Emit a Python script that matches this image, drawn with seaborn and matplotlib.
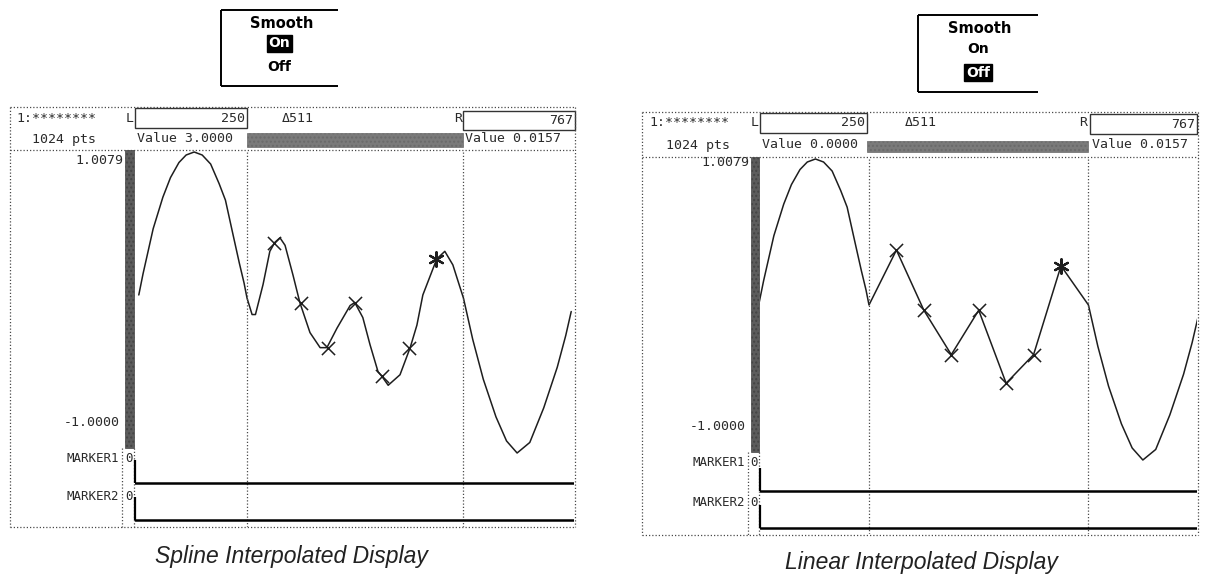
import numpy as np
import pandas as pd
import matplotlib
matplotlib.use("Agg")
import matplotlib.pyplot as plt
import seaborn as sns

# ---------------- data ----------------
cursor_left = 256
cursor_right = 767
cursor_delta = 511
channel_label = "1:********"
record_label = "1024 pts"
scale_top_label = "1.0079"
scale_bottom_label = "-1.0000"
marker_names = ["MARKER1", "MARKER2"]
marker_states = [0, 0]
cursor_box_labels = ["250", "767"]
left_value_labels = ["Value 3.0000", "Value 0.0157"]
right_value_labels = ["Value 0.0000", "Value 0.0157"]
smooth_title = "Smooth"
smooth_options = ["On", "Off"]
captions = ["Spline Interpolated Display", "Linear Interpolated Display"]

# waveform before the left cursor (point index, amplitude)
lead_pts = [0, 10, 34, 57, 75, 95, 112, 131, 150, 170, 190, 205, 223, 238, 249, 256]
lead_vals = [0.05, 0.19, 0.49, 0.70, 0.83, 0.93, 0.98, 1.00, 0.98, 0.92, 0.79, 0.68, 0.45, 0.26, 0.13, 0.03]

# raw samples between the cursors
sample_pts = [256, 320, 384, 448, 512, 576, 640, 704, 768]
sample_vals = [0.03, 0.395, -0.005, -0.30, -0.005, -0.49, -0.30, 0.29, 0.03]

# spline-smoothed trace between the cursors (as drawn in the left display)
spline_pts = [256, 268, 276, 294, 310, 322, 334, 346, 365, 381, 405, 429, 445, 469, 500,
              511, 530, 547, 566, 575, 590, 618, 642, 658, 672, 705, 724, 743, 760, 768]
spline_vals = [0.03, -0.08, -0.08, 0.12, 0.34, 0.40, 0.43, 0.38, 0.18, 0.00, -0.20, -0.30,
               -0.30, -0.17, -0.02, 0.00, -0.10, -0.28, -0.46, -0.49, -0.55, -0.48, -0.30,
               -0.15, 0.05, 0.29, 0.34, 0.25, 0.10, 0.03]

# waveform after the right cursor
tail_pts = [768, 790, 815, 845, 870, 895, 925, 958, 990, 1010, 1023]
tail_vals = [0.03, -0.245, -0.51, -0.76, -0.92, -1.00, -0.93, -0.70, -0.43, -0.22, -0.06]

cross_idx = [1, 2, 3, 4, 5, 6]
star_idx = [7]

# ---------------- layout / style ----------------
W, H = 1205, 577
YLIM = (-1.495, 1.013)
MONO = "DejaVu Sans Mono"
INK = "#1e1e1e"
DOT = dict(color="#4a4a4a", lw=0.9, ls=(0, (1, 1.6)))

sns.set_theme(style="white")
plt.rcParams["font.family"] = ["DejaVu Sans"]

fig = plt.figure(figsize=(W / 100, H / 100), dpi=100)
fig.patch.set_facecolor("white")
bg = fig.add_axes([0, 0, 1, 1], zorder=0)
bg.set_xlim(0, W)
bg.set_ylim(H, 0)
bg.axis("off")


def seg(x0, y0, x1, y1, **kw):
    bg.plot([x0, x1], [y0, y1], solid_capstyle="butt", **kw)


def rect(x0, y0, x1, y1, **kw):
    bg.add_patch(plt.Rectangle((x0, y0), x1 - x0, y1 - y0, **kw))


def txt(x, y, s, ha="left", size=9.5, **kw):
    bg.text(x, y, s, ha=ha, va="center", fontsize=size, family=MONO, color="#2a2a2a", **kw)


def smooth_box(g, highlight):
    x0, y0, x1, y1 = g["sbox"]
    seg(x0, y0, x1, y0, color="black", lw=1.4)
    seg(x0, y1, x1, y1, color="black", lw=1.4)
    seg(x0, y0, x0, y1, color="black", lw=1.4)
    cx = (x0 + x1) / 2
    bg.text(cx + 2, y0 + 0.18 * (y1 - y0), smooth_title, ha="center", va="center",
            fontsize=10.5, fontweight="bold", color="black")
    for i, opt in enumerate(smooth_options):
        yy = y0 + (0.44 + 0.31 * i) * (y1 - y0)
        if i == highlight:
            bg.text(cx, yy, opt, ha="center", va="center", fontsize=10, color="white",
                    fontweight="bold",
                    bbox=dict(facecolor="black", edgecolor="black", boxstyle="square,pad=0.12"))
        else:
            bg.text(cx, yy, opt, ha="center", va="center", fontsize=10, color="black",
                    fontweight="bold")


def panel(g, values, curve_pts, curve_vals, caption, highlight):
    fx0, fy0, fx1, fy1 = g["frame"]
    db = g["dbar"]
    s = (g["cR"] - g["cL"]) / (cursor_right - cursor_left)
    px_l = db[1] + 1
    px_r = fx1 - 1
    xlim = (cursor_left - (g["cL"] - px_l) / s, cursor_left + (px_r - g["cL"]) / s)
    top = g["c"] - YLIM[1] * g["k"]
    bot = g["c"] - YLIM[0] * g["k"]

    # frame (dotted)
    seg(fx0, fy0, fx1, fy0, **DOT)
    seg(fx0, fy1, fx1, fy1, **DOT)
    seg(fx0, fy0, fx0, fy1, **DOT)
    seg(fx1, fy0, fx1, fy1, **DOT)
    seg(fx0, top, fx1, top, **DOT)

    # header row 1
    txt(g["id_x"], g["r1"], channel_label)
    txt(g["Lx"], g["r1"], "L", ha="center")
    lb = g["Lbox"]
    rect(lb[0], lb[1], lb[2], lb[3], fill=False, edgecolor="#333", lw=1.0)
    txt(lb[2] - 2, (lb[1] + lb[3]) / 2, cursor_box_labels[0], ha="right")
    txt(g["dx"], g["r1"], "\u0394" + str(cursor_delta))
    txt(g["Rx"], g["r1"], "R", ha="center")
    rb = g["Rbox"]
    rect(rb[0], rb[1], rb[2], rb[3], fill=False, edgecolor="#333", lw=1.0)
    txt(rb[2] - 2, (rb[1] + rb[3]) / 2, cursor_box_labels[1], ha="right")

    # header row 2
    txt(g["pts_x"], g["r2"], record_label)
    txt(lb[0] + 2, g["r2"], values[0])
    gb = g["gbar"]
    rect(gb[0], gb[1], gb[2], gb[3], facecolor="#7a7a7a", edgecolor="#6a6a6a", lw=0.5,
         hatch="....")
    txt(rb[0] + 2, g["r2"], values[1])

    # scale bar and labels
    rect(db[0], top, db[1], db[2], facecolor="#5c5c5c", edgecolor="#444", lw=0.5, hatch="....")
    txt(db[0] - 2, g["lab_top"], scale_top_label, ha="right")
    txt(db[0] - 5, g["lab_bot"], scale_bottom_label, ha="right")

    # marker channel column
    seg(db[0] - 3, db[2], db[0] - 3, fy1, **DOT)
    seg(db[1], db[2], db[1], fy1, **DOT)
    for i, name in enumerate(marker_names):
        yy = g["mk_y"][i]
        txt(db[0] - 6, yy, name, ha="right", size=9)
        txt((db[0] + db[1]) / 2 - 1, yy, str(marker_states[i]), ha="center", size=9)

    # data axes
    ax = fig.add_axes([px_l / W, 1 - bot / H, (px_r - px_l) / W, (bot - top) / H], zorder=2)
    ax.patch.set_alpha(0)
    ax.set_xlim(xlim)
    ax.set_ylim(YLIM)
    ax.axis("off")

    df = pd.DataFrame({"point": curve_pts, "amp": curve_vals})
    sns.lineplot(data=df, x="point", y="amp", sort=False, estimator=None, ax=ax,
                 color=INK, lw=1.1)
    cross = pd.DataFrame({"point": [sample_pts[i] for i in cross_idx],
                          "amp": [sample_vals[i] for i in cross_idx]})
    sns.scatterplot(data=cross, x="point", y="amp", marker="x", s=90, color=INK,
                    linewidth=1.1, ax=ax, zorder=3)
    ax.scatter([sample_pts[i] for i in star_idx], [sample_vals[i] for i in star_idx],
               marker=(6, 2, 0), s=110, color=INK, linewidths=1.6, zorder=3)

    for c in (cursor_left, cursor_right):
        ax.axvline(c, **DOT)

    # marker traces (digital, low)
    for i, st in enumerate(marker_states):
        base = g["mk_base"][i] + st * 0.2
        ax.axhline(base, color="black", lw=1.8)
        ax.plot([xlim[0], xlim[0]], [base, base + 0.155], color="black", lw=1.6,
                solid_capstyle="butt", clip_on=False)
    ax.set_xlabel("")
    ax.set_ylabel("")

    smooth_box(g, highlight)
    bg.text(g["cap"][0], g["cap"][1], caption, ha="center", va="center", fontsize=16.5,
            family="Liberation Sans", style="italic", color="#222")


left_geo = dict(frame=(10, 107, 575, 527), cL=247, cR=463, c=302.5, k=150.5,
                r1=118, r2=139, id_x=16, pts_x=32, Lx=130, Lbox=(135, 108, 247, 128),
                dx=282, Rx=458, Rbox=(463, 111, 575, 130), gbar=(247, 133, 463, 147),
                dbar=(125, 134, 448), lab_top=160, lab_bot=422, mk_y=(458, 497),
                mk_base=(-1.20, -1.445), sbox=(221, 10, 338, 86), cap=(291, 557))

right_geo = dict(frame=(642, 112, 1198, 535), cL=869, cR=1088, c=309.5, k=150.5,
                 r1=123, r2=145, id_x=649, pts_x=666, Lx=755, Lbox=(760, 113, 867, 133),
                 dx=905, Rx=1083, Rbox=(1090, 114, 1197, 134), gbar=(867, 141, 1088, 152),
                 dbar=(751, 759, 452), lab_top=163, lab_bot=427, mk_y=(463, 502),
                 mk_base=(-1.206, -1.452), sbox=(918, 15, 1038, 92), cap=(921, 562))

spline_curve_pts = lead_pts + spline_pts[1:] + tail_pts[1:]
spline_curve_vals = lead_vals + spline_vals[1:] + tail_vals[1:]
linear_curve_pts = lead_pts + sample_pts[1:] + tail_pts[1:]
linear_curve_vals = lead_vals + sample_vals[1:] + tail_vals[1:]

panel(left_geo, left_value_labels, spline_curve_pts, spline_curve_vals, captions[0], 0)
panel(right_geo, right_value_labels, linear_curve_pts, linear_curve_vals, captions[1], 1)

fig.savefig("out.png", dpi=100, facecolor="white")
